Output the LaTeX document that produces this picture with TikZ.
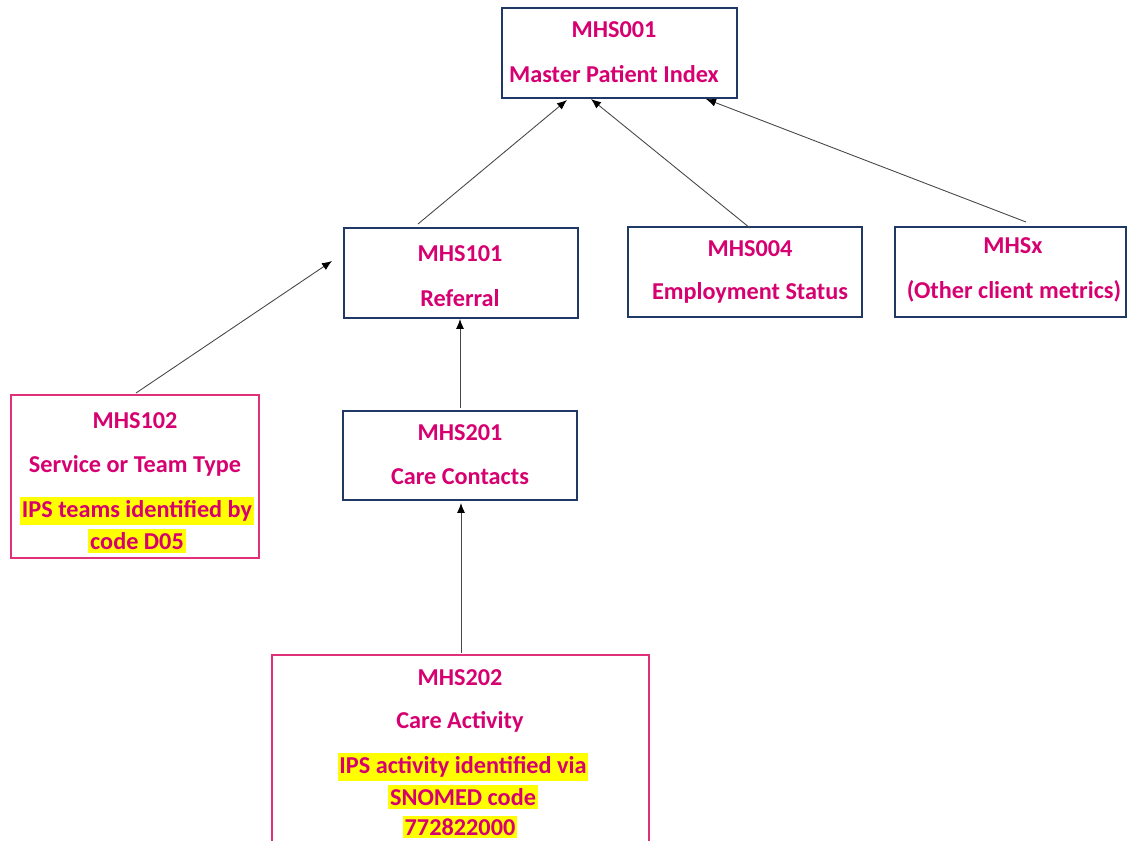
\documentclass[tikz,border=0pt]{standalone}
\usepackage{fontspec}
\setmainfont{Carlito}
\usetikzlibrary{arrows.meta}
\definecolor{txt}{RGB}{214,0,112}
\definecolor{navy}{RGB}{32,56,100}
\definecolor{pinkb}{RGB}{224,48,122}
\definecolor{hl}{RGB}{255,255,0}
\definecolor{lineg}{RGB}{70,70,70}
\tikzset{
  bluebox/.style={draw=navy,line width=0.85pt,fill=white},
  pinkbox/.style={draw=pinkb,line width=0.85pt,fill=white},
  lbl/.style={text=txt,font=\fontsize{13.8}{16}\selectfont\bfseries,inner sep=0pt},
  hlbl/.style={lbl,fill=hl,inner xsep=1pt,inner ysep=2.2pt},
  arr/.style={draw=lineg,line width=0.5pt,-{Latex[length=0.2cm,width=0.16cm,color=black]}}
}
\begin{document}
\begin{tikzpicture}[x=0.02cm,y=-0.02cm]
\useasboundingbox (0,0) rectangle (1127,841);
\begin{scope}
\clip (0,0) rectangle (1127,841);
% boxes
\draw[bluebox] (502,8) rectangle (737,98);
\draw[bluebox] (344,228) rectangle (578,318);
\draw[bluebox] (628,227) rectangle (862,317);
\draw[bluebox] (895,227) rectangle (1126,317);
\draw[pinkbox] (11,395) rectangle (259,558);
\draw[bluebox] (343,411) rectangle (577,500);
\draw[pinkbox] (272,655) rectangle (649,860);
% texts
\node[lbl] (t001a) at (614,30) {MHS001};
\node[lbl] (t001b) at (614,74) {Master Patient Index};
\node[lbl] (t101a) at (460,254) {MHS101};
\node[lbl] (t101b) at (460,298) {Referral};
\node[lbl] (t004a) at (750,249) {MHS004};
\node[lbl] (t004b) at (750,293) {Employment Status};
\node[lbl] (txa) at (1013,246) {MHSx};
\node[lbl] (txb) at (1014,291) {(Other client metrics)};
\node[lbl] (t102a) at (135,421) {MHS102};
\node[lbl] (t102b) at (135,466) {Service or Team Type};
\node[hlbl] (t102c) at (137,511) {IPS teams identified by\ };
\node[hlbl] (t102d) at (137,541) {code D05};
\node[lbl] (t201a) at (460,433) {MHS201};
\node[lbl] (t201b) at (460,477) {Care Contacts};
\node[lbl] (t202a) at (460,678) {MHS202};
\node[lbl] (t202b) at (460,722) {Care Activity};
\node[hlbl] (t202c) at (463,767) {IPS activity identified via\ };
\node[hlbl] (t202d) at (463,797) {SNOMED code\ };
\node[hlbl,inner ysep=1.5pt] (t202e) at (460,827) {772822000};
% connector ends
\coordinate (s1) at (418,224); \coordinate (e1) at (567,100);
\coordinate (s2) at (750,228); \coordinate (e2) at (591,99);
\coordinate (s3) at (1026,222); \coordinate (e3) at (706,99);
\coordinate (s4) at (136,393); \coordinate (e4) at (332,261);
\coordinate (s5) at (460,408); \coordinate (e5) at (460,319);
\coordinate (s6) at (461,653); \coordinate (e6) at (461,503);
\draw[arr] (s1) -- (e1);
\draw[arr] (s2) -- (e2);
\draw[arr] (s3) -- (e3);
\draw[arr] (s4) -- (e4);
\draw[arr] (s5) -- (e5);
\draw[arr] (s6) -- (e6);
\end{scope}
\end{tikzpicture}
\end{document}
